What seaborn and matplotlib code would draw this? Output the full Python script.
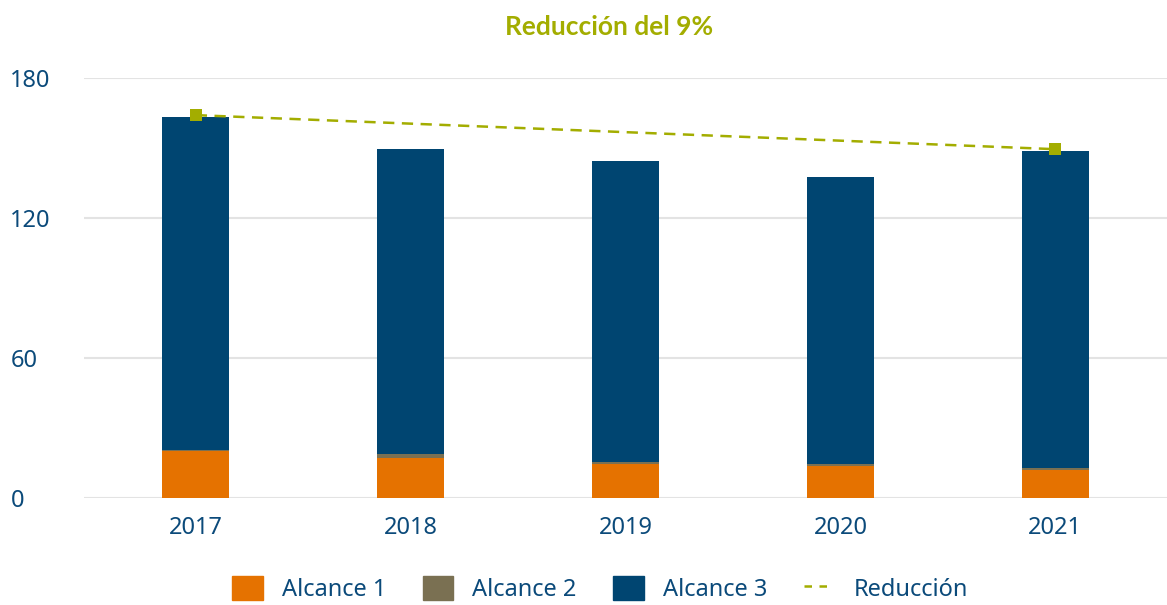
import matplotlib
matplotlib.use("Agg")
import pandas as pd
import matplotlib.pyplot as plt
import seaborn as sns
from matplotlib.patches import Patch
from matplotlib.lines import Line2D

# data
years = ["2017", "2018", "2019", "2020", "2021"]
alcance1 = [19.9, 17.2, 14.6, 13.7, 12.0]
alcance2 = [0.7, 1.7, 0.8, 0.9, 0.9]
alcance3 = [142.8, 130.8, 129.1, 123.0, 135.9]
reduccion_years = ["2017", "2021"]
reduccion = [164.1, 149.5]
yticks = [0, 60, 120, 180]

C1, C2, C3 = "#E57200", "#7A7052", "#004571"
LINE = "#A3AD00"
TXT = "#0B4A7A"

sns.set_theme(style="white")
plt.rcParams["font.family"] = ["Noto Sans", "DejaVu Sans"]

df = pd.DataFrame({"year": years, "a1": alcance1, "a2": alcance2, "a3": alcance3})
df["b2"] = df["a1"]
df["b3"] = df["a1"] + df["a2"]

fig = plt.figure(figsize=(11.67, 6.05), dpi=100)
ax = fig.add_axes([0.072, 0.177, 0.928, 0.694])

w = 0.31
bar_kw = dict(width=w, saturation=1, linewidth=0, edgecolor="none", ax=ax)
sns.barplot(data=df, x="year", y="a1", color=C1, **bar_kw)
sns.barplot(data=df, x="year", y="a2", bottom=df["b2"], color=C2, **bar_kw)
sns.barplot(data=df, x="year", y="a3", bottom=df["b3"], color=C3, **bar_kw)

xpos = [years.index(y) for y in reduccion_years]
sns.lineplot(x=xpos, y=reduccion, color=LINE, linestyle=(0, (4.5, 3)), linewidth=1.8,
             marker="s", markersize=8, markeredgewidth=0, ax=ax)

ax.set_xlim(-0.52, 4.52)
ax.set_ylim(0, 180)
ax.set_yticks(yticks)
ax.set_xlabel("")
ax.set_ylabel("")
ax.grid(axis="y", color="#E3E3E3", linewidth=1.5)
ax.set_axisbelow(True)
for s in ax.spines.values():
    s.set_visible(False)
ax.tick_params(axis="both", length=0, labelsize=17, labelcolor=TXT)
ax.tick_params(axis="x", pad=13)
ax.tick_params(axis="y", pad=53)
for lab in ax.get_yticklabels():
    lab.set_horizontalalignment("left")

fig.text(0.522, 0.955, "Reducción del 9%", ha="center", va="center",
         fontsize=19, fontweight="bold", color=LINE, family=["Lato", "DejaVu Sans"])

handles = [Patch(color=C1), Patch(color=C2), Patch(color=C3),
           Line2D([], [], color=LINE, linestyle=(0, (3, 3)), linewidth=1.8)]
labels = ["Alcance 1", "Alcance 2", "Alcance 3", "Reducción"]
leg = fig.legend(handles, labels, loc="lower center", bbox_to_anchor=(0.514, -0.03),
                 ncol=4, frameon=False, fontsize=17, handlelength=1.3, handleheight=1.2,
                 columnspacing=1.55, handletextpad=0.8)
for t in leg.get_texts():
    t.set_color(TXT)

fig.savefig("out.png", dpi=100)
plt.close()
